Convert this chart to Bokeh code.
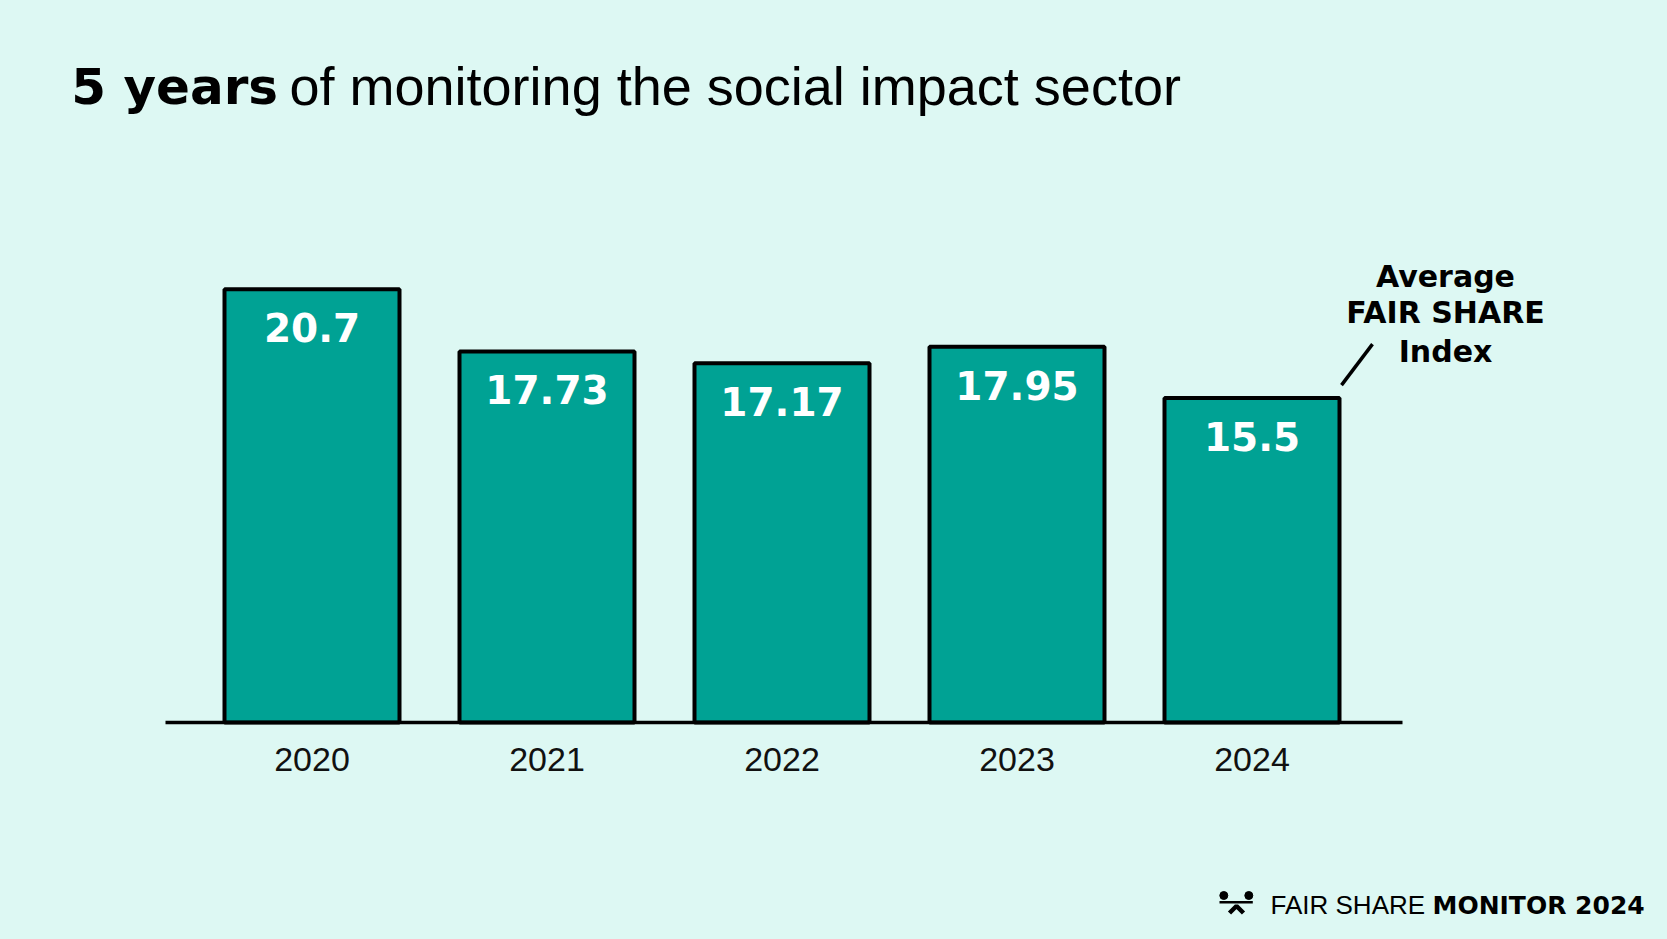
from bokeh.plotting import figure
from bokeh.models import Range1d, Label, ColumnDataSource
from bokeh.embed import file_html
from bokeh.resources import INLINE
from bokeh.core.properties import value

# ---- data ----
years = ["2020", "2021", "2022", "2023", "2024"]
index_values = [20.7, 17.73, 17.17, 17.95, 15.5]
value_labels = ["20.7", "17.73", "17.17", "17.95", "15.5"]
title_bold = "5 years"
title_rest = "of monitoring the social impact sector"
annotation_lines = ["Average", "FAIR SHARE", "Index"]
footer_regular = "FAIR SHARE"
footer_bold = "MONITOR 2024"

# ---- layout (canvas pixels) ----
W, H = 1667, 939
BG = "#ddf8f3"
TEAL = "#00a294"
INK = "#000000"
X0 = 311.5      # canvas x of first category centre
DX = 235.0      # px per category
BASE = 722.0    # canvas y of the zero line
PXU = 20.93     # px per index unit
BL = 0.37       # alphabetic-baseline correction (fraction of font size)

x_range = Range1d(-X0 / DX, (W - X0) / DX)
y_range = Range1d(-(H - BASE) / PXU, BASE / PXU)

p = figure(width=W, height=H, x_range=x_range, y_range=y_range,
           output_backend="svg", toolbar_location=None, title=None,
           x_axis_location=None, y_axis_location=None,
           min_border=0, background_fill_color=BG, border_fill_color=BG,
           outline_line_color=None)
p.min_border_left = p.min_border_right = p.min_border_top = p.min_border_bottom = 0
p.xgrid.visible = False
p.ygrid.visible = False


def px_x(cx):
    return x_range.start + cx / DX


def px_y(cy):
    return (BASE - cy) / PXU


def label(text, x, baseline, size, font, bold=False, align="left"):
    p.add_layout(Label(x=x, y=H - (baseline - BL * size), x_units="screen", y_units="screen",
                       text=text, text_align=align, text_baseline="alphabetic",
                       text_font=font, text_font_style="bold" if bold else "normal",
                       text_font_size=f"{size}px", text_color=INK))


xs = list(range(len(years)))
src = ColumnDataSource(dict(x=xs, top=index_values, year=years, label=value_labels))
BAR_W = 175 / DX

p.vbar(x="x", top="top", bottom=0, width=BAR_W, source=src,
       fill_color=TEAL, line_color=INK, line_width=4)

# zero line
p.segment(x0=px_x(165), y0=0, x1=px_x(1402), y1=0, line_color=INK, line_width=3.5)

# value labels inside bars
VS = 39
p.text(x="x", y="top", text="label", source=src, text_align="center",
       text_baseline="alphabetic", y_offset=53 - BL * VS, text_color="white",
       text_font=value("DejaVu Sans"), text_font_style="bold", text_font_size=f"{VS}px")

# year labels
YS = 34
p.text(x="x", y=0, text="year", source=src, text_align="center",
       text_baseline="alphabetic", y_offset=50 - BL * YS, text_color="#111111",
       text_font=value("Liberation Sans"), text_font_size=f"{YS}px")

# leader line from last bar to annotation
lx0 = xs[-1] + BAR_W / 2 + 2 / DX
ly0 = index_values[-1] + 13 / PXU
p.segment(x0=lx0, y0=ly0, x1=lx0 + 31 / DX, y1=ly0 + 41 / PXU,
          line_color=INK, line_width=3.5)

# annotation text
for txt, by in zip(annotation_lines, [286.7, 323.0, 361.7]):
    label(txt, 1445, by, 30, "DejaVu Sans", bold=True, align="center")

# title
label(title_bold, 70.7, 105, 50, "DejaVu Sans", bold=True)
label(title_rest, 289, 105, 54, "Liberation Sans")

# footer logo
p.scatter(x=[px_x(1223.3), px_x(1248.3)], y=[px_y(895), px_y(895)],
          size=8, color=INK)
p.segment(x0=px_x(1219), y0=px_y(901.7), x1=px_x(1252.3), y1=px_y(901.7),
          line_color=INK, line_width=2.5)
p.line(x=[px_x(1229), px_x(1236), px_x(1243)],
       y=[px_y(912.5), px_y(905.5), px_y(912.5)],
       line_color=INK, line_width=4.5)

# footer text
label(footer_regular, 1270, 914, 26, "Liberation Sans")
label(footer_bold, 1432, 914, 25, "DejaVu Sans", bold=True)

template = "{% block preamble %}<style>html,body{background:" + BG + ";}</style>{% endblock %}"
open("out.html", "w").write(file_html(p, INLINE, template=template))
